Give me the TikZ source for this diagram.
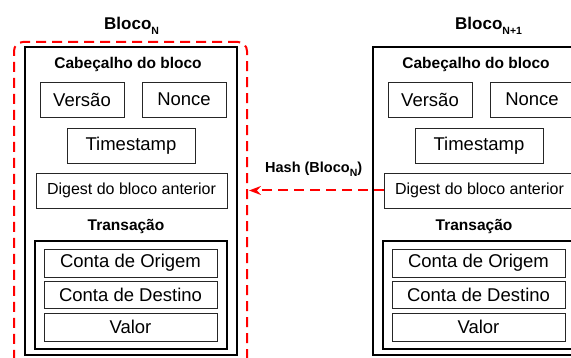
\documentclass[tikz,border=0pt]{standalone}
\usepackage{fontspec}
\setmainfont{Liberation Sans}
\usetikzlibrary{arrows.meta}
\newcommand{\sbN}[1]{\raisebox{-0.5ex}{\bfseries\fontsize{10.5}{11}\selectfont #1}}
\begin{document}
\begin{tikzpicture}[x=1pt,y=-1pt,
 cell/.style={draw=black!85, line width=0.9pt, inner sep=0pt, font=\fontsize{18.5}{20}\selectfont},
 small/.style={cell, font=\fontsize{16}{18}\selectfont},
 frame/.style={draw=black, line width=1.3pt, inner sep=0pt},
 hdr/.style={font=\bfseries\fontsize{15.5}{17}\selectfont, inner sep=0pt},
 ttl/.style={font=\bfseries\fontsize{17}{19}\selectfont, inner sep=0pt},
 hl/.style={draw=red, line width=2pt, dash pattern=on 10pt off 6pt, rounded corners=9pt},
 hlarrow/.style={draw=red, line width=2pt, dash pattern=on 10pt off 6pt, -{Stealth[length=12pt,width=9pt,inset=4pt]}},
]
\clip (0,0) rectangle (571,358);
\foreach \o/\s in {0/N,348/M}{
  \node[frame, minimum width=212pt, minimum height=308pt] (out\s) at (131+\o,201) {};
  \node[hdr] (cab\s) at (128+\o,64) {Cabeçalho do bloco};
  \node[cell, minimum width=84pt, minimum height=35pt] (ver\s) at (82+\o,99.5) {Versão};
  \node[cell, minimum width=84pt, minimum height=35pt] (non\s) at (184+\o,99.5) {Nonce};
  \node[cell, minimum width=128pt, minimum height=35pt] (tim\s) at (131+\o,145.5) {Timestamp};
  \node[small, minimum width=191pt, minimum height=35pt] (dig\s) at (131.5+\o,190.5) {Digest do bloco anterior};
  \node[hdr] (tra\s) at (126+\o,227) {Transação};
  \node[frame, minimum width=192pt, minimum height=108pt] (tbox\s) at (131+\o,295) {};
  \node[cell, minimum width=173pt, minimum height=28pt] (ori\s) at (130.5+\o,263) {Conta de Origem};
  \node[cell, minimum width=173pt, minimum height=27pt] (des\s) at (130.5+\o,294.5) {Conta de Destino};
  \node[cell, minimum width=173pt, minimum height=28pt] (val\s) at (130.5+\o,327) {Valor};
}
\node[ttl, anchor=base west] (tN) at (104,30) {Bloco\sbN{N}};
\node[ttl, anchor=base west] (tM) at (455,30) {Bloco\sbN{N+1}};
\node[hl, minimum width=233pt, minimum height=328pt, inner sep=0pt] (hlN) at (130.5,206) {};
\node[font=\bfseries\fontsize{14.5}{16}\selectfont, inner sep=0pt, anchor=base west] (hash) at (265,173) {Hash (Bloco\sbN{N})};
\draw[hlarrow, shorten >=1pt] (digM.west) -- (hlN.east |- digM.west);
\end{tikzpicture}
\end{document}
